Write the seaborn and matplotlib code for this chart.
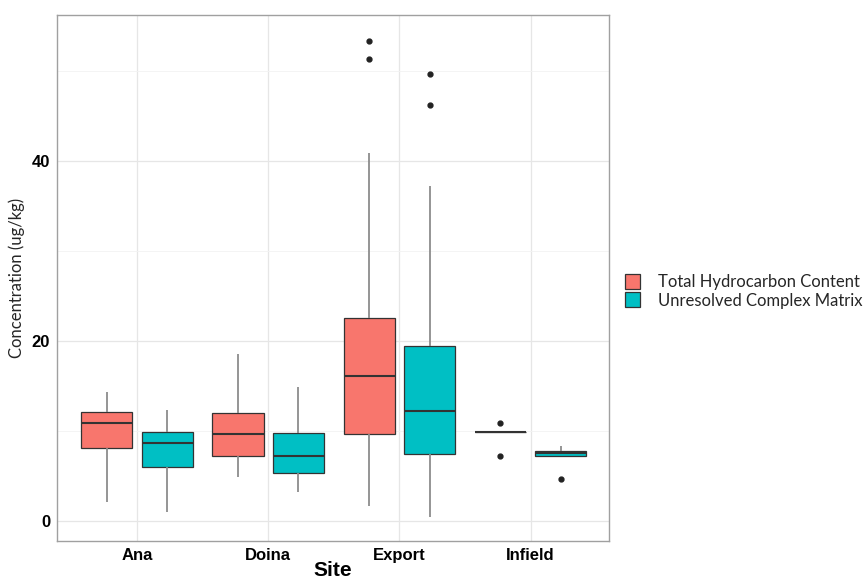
import seaborn as sns
import matplotlib.pyplot as plt
import pandas as pd

# sites and series
sites = ["Ana", "Doina", "Export", "Infield"]
series = ["Total Hydrocarbon Content", "Unresolved Complex Matrix"]

# sample concentrations (ug/kg)
ana_thc = [2.2, 6.0, 8.1, 9.5, 10.9, 11.5, 12.1, 13.2, 14.4]
ana_ucm = [1.0, 4.5, 6.0, 7.6, 8.7, 9.3, 9.9, 11.0, 12.4]
doina_thc = [4.9, 6.3, 7.2, 8.5, 9.7, 10.9, 12.0, 14.8, 18.6]
doina_ucm = [3.2, 4.6, 5.4, 6.3, 7.2, 8.4, 9.8, 12.1, 14.9]
export_thc = [1.7, 5.2, 7.8, 9.7, 12.0, 14.3, 16.1, 18.5, 20.4, 22.6, 40.9, 51.3, 53.3]
export_ucm = [0.5, 3.8, 5.9, 7.5, 9.2, 10.8, 12.3, 14.6, 17.0, 19.5, 37.2, 46.2, 49.7]
infield_thc = [7.2, 9.9, 9.9, 9.9, 9.9, 9.9, 9.9, 9.9, 10.9]
infield_ucm = [4.7, 7.2, 7.2, 7.4, 7.6, 7.7, 7.8, 8.1, 8.4]

groups = {
    ("Ana", series[0]): ana_thc, ("Ana", series[1]): ana_ucm,
    ("Doina", series[0]): doina_thc, ("Doina", series[1]): doina_ucm,
    ("Export", series[0]): export_thc, ("Export", series[1]): export_ucm,
    ("Infield", series[0]): infield_thc, ("Infield", series[1]): infield_ucm,
}
rows = []
for (site, s), vals in groups.items():
    for v in vals:
        rows.append({"Site": site, "Type": s, "Concentration": v})
df = pd.DataFrame(rows)

sns.set_style("white")
plt.rcParams["font.family"] = ["Liberation Sans", "DejaVu Sans"]

fig = plt.figure(figsize=(8.63, 5.8), dpi=100)
ax = fig.add_axes([0.066, 0.067, 0.640, 0.907])

sns.boxplot(
    data=df, x="Site", y="Concentration", hue="Type",
    order=sites, hue_order=series,
    palette=["#F8766D", "#00BFC4"], saturation=1,
    width=0.92, gap=0.15, whis=1.5, ax=ax,
    linecolor="#333333", linewidth=0.9,
    whiskerprops={"color": "#8c8c8c", "linewidth": 1.3},
    capprops={"linewidth": 0},
    medianprops={"color": "#333333", "linewidth": 1.5},
    flierprops={"marker": "o", "markersize": 3.5, "markerfacecolor": "#222222",
                "markeredgecolor": "#222222"},
)

ax.set_xlim(-0.61, 3.6)
ax.set_ylim(-2.2, 56.2)
ax.set_yticks([0, 20, 40])
ax.set_yticks([10, 30, 50], minor=True)
ax.grid(True, which="major", color="#e6e6e6", linewidth=0.9)
ax.grid(True, which="minor", axis="y", color="#f2f2f2", linewidth=0.6)
ax.set_axisbelow(True)
for sp in ax.spines.values():
    sp.set_color("#a0a0a0")
    sp.set_linewidth(1.0)

ax.tick_params(axis="both", which="major", length=3, color="#333333", width=0.8, pad=2)
ax.tick_params(axis="y", which="minor", length=0)
for lab in ax.get_xticklabels():
    lab.set_fontweight("bold")
    lab.set_fontsize(12)
    lab.set_color("black")
for lab in ax.get_yticklabels():
    lab.set_fontweight("bold")
    lab.set_fontsize(12)
    lab.set_color("black")

ax.set_xlabel("Site", fontsize=15, fontweight="bold", color="black")
ax.xaxis.set_label_coords(0.5, -0.074)
ax.xaxis.label.set_verticalalignment("bottom")
ax.set_ylabel("Concentration (ug/kg)", fontsize=12, family=["Lato", "DejaVu Sans"],
              labelpad=5)

handles, labels = ax.get_legend_handles_labels()
ax.legend(handles, labels, loc="center left", bbox_to_anchor=(0.707, 0.498),
          bbox_transform=fig.transFigure, frameon=False,
          prop={"family": ["Lato", "DejaVu Sans"], "size": 12},
          handlelength=0.9, handleheight=1.0, handletextpad=1.1, labelspacing=0.15)

fig.savefig("out.png", dpi=100)
